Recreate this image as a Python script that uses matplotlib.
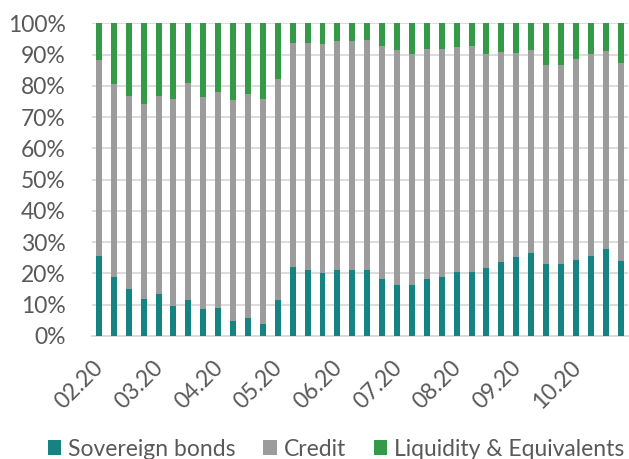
import numpy as np
import matplotlib
matplotlib.use("Agg")
import matplotlib.pyplot as plt
from matplotlib.ticker import PercentFormatter
from matplotlib.transforms import ScaledTranslation

# --- Datos (% del total, semanas) ---
sovereign = [25.7, 19.0, 15.1, 11.8, 13.4, 9.7, 11.4, 8.6, 9.1, 4.7, 5.7, 3.9,
             11.4, 22.0, 21.0, 20.3, 21.0, 21.0, 21.0, 18.2, 16.2, 16.2, 18.2, 19.0,
             20.6, 20.6, 21.6, 23.7, 25.4, 26.7, 23.0, 23.0, 24.3, 25.7, 27.8, 24.0]
credit_top = [88.3, 80.5, 76.8, 74.1, 76.8, 75.8, 80.9, 76.4, 78.1, 75.5, 77.4, 75.8,
              82.2, 93.8, 93.8, 93.5, 94.2, 94.2, 94.6, 92.9, 91.5, 90.1, 91.8, 91.8,
              92.5, 92.9, 90.1, 90.8, 90.4, 91.5, 86.7, 86.7, 88.7, 90.1, 91.2, 87.4]
month_labels = ["02.20", "03.20", "04.20", "05.20", "06.20", "07.20", "08.20", "09.20", "10.20"]

sovereign = np.array(sovereign)
credit = np.array(credit_top) - sovereign
liquidity = 100 - sovereign - credit

plt.rcParams['font.family'] = ['Lato', 'DejaVu Sans']
col_sov = "#158381"
col_cred = "#9c9c9c"
col_liq = "#349a48"
txt = "#595959"
fs = 16.5

fig = plt.figure(figsize=(6.29, 4.59), dpi=100)
ax = fig.add_axes([91.5 / 629, 1 - 336 / 459, (628 - 91.5) / 629, (336 - 23.3) / 459])

x = np.arange(len(sovereign))
w = 0.4
ax.bar(x, sovereign, w, color=col_sov, label="Sovereign bonds", zorder=3)
ax.bar(x, credit, w, bottom=sovereign, color=col_cred, label="Credit", zorder=3)
ax.bar(x, liquidity, w, bottom=sovereign + credit, color=col_liq,
       label="Liquidity & Equivalents", zorder=3)

ax.set_xlim(-0.5, len(x) - 0.5)
ax.set_ylim(0, 100)
ax.set_yticks(np.arange(0, 101, 10))
ax.yaxis.set_major_formatter(PercentFormatter(decimals=0))
ax.grid(axis="y", color="#d9d9d9", linewidth=1.3, zorder=0)

ax.set_xticks(x[::4])
ax.set_xticklabels(month_labels, rotation=45, ha="right", va="top", rotation_mode="anchor")
ax.tick_params(axis="both", length=0, colors=txt, labelsize=fs)
ax.tick_params(axis="y", pad=18.5)
ax.tick_params(axis="x", pad=15)
# etiquetas un poco a la izquierda, como en Excel
shift = ScaledTranslation(-6 / 100, 0, fig.dpi_scale_trans)
for lab in ax.get_xticklabels():
    lab.set_transform(lab.get_transform() + shift)

for s in ["top", "right", "left"]:
    ax.spines[s].set_visible(False)
ax.spines["bottom"].set_color("#d9d9d9")
ax.spines["bottom"].set_linewidth(1.3)

leg = fig.legend(loc="center", bbox_to_anchor=(336 / 629, 1 - 449 / 459), ncol=3,
                 frameon=False, fontsize=fs, handlelength=0.6, handleheight=0.6,
                 handletextpad=0.3, columnspacing=1.2, labelcolor=txt)

plt.savefig("out.png", dpi=100)
